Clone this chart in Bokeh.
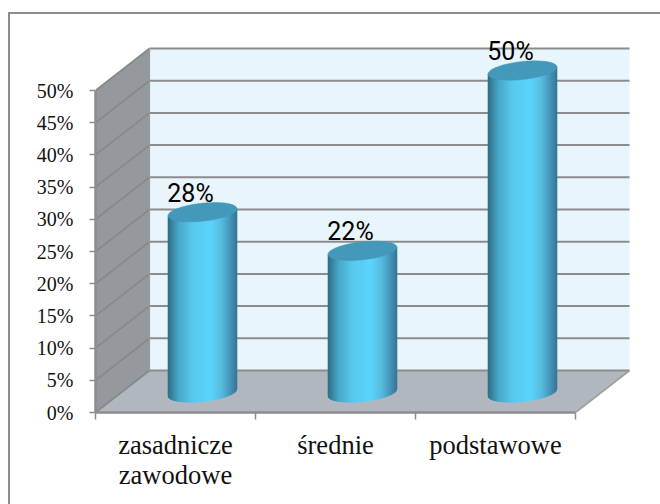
import numpy as np
from bokeh.plotting import figure
from bokeh.embed import file_html
from bokeh.resources import INLINE
from bokeh.models import Range1d, FixedTicker, NumeralTickFormatter
from bokeh.core.properties import value

categories = ["zasadnicze\nzawodowe", "średnie", "podstawowe"]
values = [28, 22, 50]
labels = ["28%", "22%", "50%"]
y_ticks = [0, 5, 10, 15, 20, 25, 30, 35, 40, 45, 50]

# pixel geometry of the frame
W, H = 660, 504
L, R, T, B = 95, 632, 30, 412
PX = 160.0                      # px per category
PY = 6.44                       # px per percent
DX, DY = 54 / PX, 42 / PY       # depth of the 3D box, in data units
NC = len(categories)

p = figure(width=W, height=H, output_backend="svg", toolbar_location=None,
           min_border_left=L, min_border_right=W - R, min_border_top=T, min_border_bottom=H - B,
           x_range=Range1d(0, (R - L) / PX), y_range=Range1d(0, (B - T) / PY),
           background_fill_color="white", border_fill_color=None)
p.outline_line_color = None
p.grid.visible = False

# outer frame: only its top and left edges are in view
p.styles = {
    "background-color": "white",
    "background-image": "linear-gradient(#8c8c8c,#8c8c8c),linear-gradient(#8c8c8c,#8c8c8c)",
    "background-repeat": "no-repeat",
    "background-position": "9px 12px,8px 12px",
    "background-size": "100% 2px,2px 100%",
}

ymax = max(y_ticks)
# side wall, back wall, floor
p.patch([0, DX, DX, 0], [0, DY, ymax + DY, ymax], fill_color="#93999c", line_color=None)
p.patch([DX, NC + DX, NC + DX, DX], [DY, DY, ymax + DY, ymax + DY], fill_color="#e8f5fd", line_color=None)
p.patch([0, NC, NC + DX, DX], [0, 0, DY, DY], fill_color="#b0b7bf", line_color=None)

# grid lines on the walls
gy = [v for v in y_ticks]
p.segment([DX] * len(gy), [v + DY for v in gy], [NC + DX] * len(gy), [v + DY for v in gy],
          line_color="#8c8c8c", line_width=2)
p.segment([0] * len(gy), gy, [DX] * len(gy), [v + DY for v in gy], line_color="#858a8c", line_width=1.8)
p.segment([DX], [DY], [DX], [ymax + DY], line_color="#9a9a9a", line_width=1.2)
p.segment([NC], [0], [NC + DX], [DY], line_color="#a0a0a0", line_width=1.8)

# cylinders
half = 34.5 / PX
b_el = 9 / PY
shear = 3.5 / PY
base = 20 / PY
stops = np.array([0, .05, .16, .35, .62, .78, .92, 1])
reds = np.array([0x2c, 0x36, 0x4a, 0x58, 0x5e, 0x58, 0x45, 0x36])
greens = np.array([0x6c, 0x80, 0xa8, 0xc8, 0xd6, 0xbc, 0x90, 0x78])
blues = np.array([0x84, 0x9c, 0xc8, 0xee, 0xff, 0xe0, 0xb4, 0x96])
N = 69
for i, v in enumerate(values):
    cx = i + 0.5 + DX / 2
    xs, ys, cols = [], [], []
    edges = np.linspace(-1, 1, N + 1)
    for j in range(N):
        u0, u1 = edges[j], edges[j + 1]
        f = ((u0 + u1) / 2 + 1) / 2
        col = "#%02x%02x%02x" % (int(np.interp(f, stops, reds)), int(np.interp(f, stops, greens)), int(np.interp(f, stops, blues)))
        xa, xb = cx + u0 * half, cx + u1 * half
        low = lambda u: base - b_el * np.sqrt(max(0, 1 - u * u)) + shear * u
        top = lambda u: base + v + shear * u
        xs.append([xa, xb, xb, xa])
        ys.append([low(u0), low(u1), top(u1), top(u0)])
        cols.append(col)
    p.patches(xs, ys, fill_color=cols, line_color=cols, line_width=0.6)
    th = np.linspace(0, 2 * np.pi, 80)
    p.patch(cx + half * np.cos(th), base + v + b_el * np.sin(th) + shear * np.cos(th),
            fill_color="#4499bb", line_color="#4499bb", line_width=0.5)

# value labels
p.text([i + 0.5 for i in range(NC)], values, text=labels, x_offset=15, y_offset=-39,
       text_font=value("Roboto"), text_font_size="25px", text_color="black",
       text_align="center", text_baseline="alphabetic")

# axes
ya = p.yaxis[0]
ya.ticker = FixedTicker(ticks=y_ticks, minor_ticks=[])
ya.formatter = NumeralTickFormatter(format='0"%"')
ya.major_label_overrides = {v: f"{v}%" for v in y_ticks}
ya.bounds = (0, ymax)
ya.axis_line_color = "#8c8c8c"; ya.axis_line_width = 2.5
ya.major_tick_line_color = "#8c8c8c"; ya.major_tick_line_width = 1.5
ya.major_tick_in = 0; ya.major_tick_out = 6
ya.minor_tick_line_color = None
ya.major_label_standoff = 16
ya.major_label_text_font = "Liberation Serif"
ya.major_label_text_font_size = "20px"
ya.major_label_text_color = "#111111"

xa_ = p.xaxis[0]
xa_.ticker = FixedTicker(ticks=[i + 0.5 for i in range(NC)], minor_ticks=list(range(NC + 1)))
xa_.major_label_overrides = {i + 0.5: c for i, c in enumerate(categories)}
xa_.bounds = (0, NC)
xa_.axis_line_color = "#8c8c8c"; xa_.axis_line_width = 2.5
xa_.major_tick_line_color = None
xa_.minor_tick_line_color = "#8c8c8c"; xa_.minor_tick_line_width = 1.5
xa_.minor_tick_in = 0; xa_.minor_tick_out = 7
xa_.major_label_standoff = 10
xa_.major_label_text_font = "Liberation Serif"
xa_.major_label_text_font_size = "26.5px"
xa_.major_label_text_line_height = 1.02
xa_.major_label_text_color = "#111111"

open("out.html", "w").write(file_html(p, INLINE))
